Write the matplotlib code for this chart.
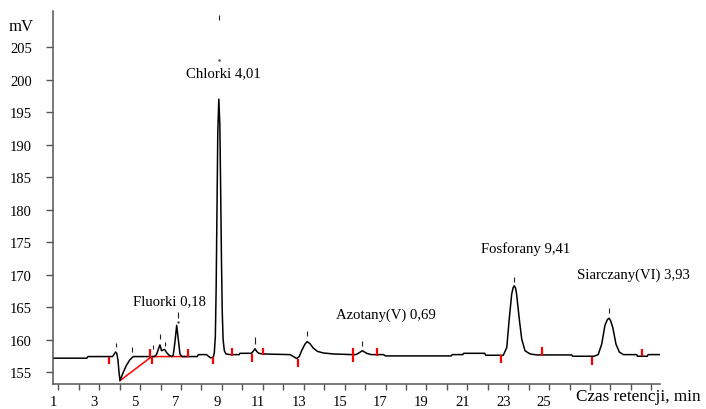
import numpy as np
import matplotlib
matplotlib.use("Agg")
from matplotlib import pyplot as plt
from matplotlib.transforms import ScaledTranslation

# chromatogram trace (time in min, signal in mV)
trace_t = [0.73, 2.40, 2.45, 3.65, 3.72, 3.80, 3.86, 3.92, 3.97, 4.02, 4.08, 4.18, 4.34, 4.50, 4.67,
           5.70, 5.80, 5.88, 5.97, 6.05, 6.12, 6.20, 6.30, 6.42, 6.55, 6.62, 6.70, 6.79, 6.87, 6.95, 7.05,
           7.80, 7.85, 8.25, 8.32, 8.45, 8.58, 8.63, 8.68, 8.72, 8.76, 8.80, 8.85, 8.90, 8.94, 8.98,
           9.02, 9.06, 9.12, 9.20, 9.40, 9.85, 9.88, 10.45, 10.55, 10.62, 10.70, 10.80, 11.00,
           12.33, 12.50, 12.66, 12.78, 12.90, 13.06, 13.17, 13.30, 13.47, 13.67, 13.96, 14.45, 15.35,
           15.55, 15.67, 15.87, 16.08, 16.30, 16.90, 17.00, 20.22, 20.26, 20.78, 20.82, 21.85, 21.90,
           22.76, 22.93, 23.05, 23.17, 23.24, 23.30, 23.36, 23.41, 23.54, 23.66, 23.82, 24.07, 24.40,
           26.10, 26.15, 27.20, 27.40, 27.57, 27.73, 27.85, 27.93, 28.01, 28.11, 28.27, 28.43, 28.63,
           29.28, 29.32, 29.80, 29.84, 30.42]
trace_mv = [157.15, 157.15, 157.4, 157.4, 157.7, 158.1, 157.9, 156.8, 155.0, 153.7, 154.2, 155.0, 156.1, 156.9, 157.4,
            157.4, 157.7, 158.4, 159.2, 158.3, 158.4, 158.5, 158.0, 157.6, 157.4, 157.6, 159.5, 162.2, 160.0, 157.8, 157.4,
            157.4, 157.7, 157.7, 157.5, 157.2, 157.3, 158.0, 160.5, 168.0, 180.0, 192.0, 197.0, 193.0, 183.0, 172.0,
            164.0, 160.0, 158.3, 157.8, 157.7, 157.7, 157.9, 157.9, 158.3, 158.6, 158.2, 157.9, 157.8,
            157.7, 157.4, 157.1, 157.4, 158.3, 159.3, 159.7, 159.4, 158.7, 158.2, 157.95, 157.8, 157.7,
            157.7, 157.9, 158.3, 157.9, 157.7, 157.7, 157.5, 157.5, 157.7, 157.7, 157.9, 157.9, 157.6,
            157.6, 158.8, 163.2, 167.0, 168.0, 168.3, 167.9, 167.0, 163.2, 160.1, 158.3, 157.8, 157.65,
            157.65, 157.45, 157.45, 157.7, 159.3, 162.2, 163.1, 163.3, 162.9, 161.9, 159.3, 158.1, 157.7,
            157.7, 157.45, 157.45, 157.7, 157.7]

# red integration marks (time, lower, upper)
red_t = [3.48, 5.48, 5.57, 7.36, 8.55, 9.51, 10.46, 11.02, 12.72, 15.43, 16.57, 22.63, 24.67, 27.11, 29.53]
red_lo = [156.3, 157.4, 156.3, 157.3, 156.3, 157.5, 156.6, 157.7, 155.8, 156.5, 157.5, 156.4, 157.5, 156.15, 157.45]
red_hi = [157.3, 158.6, 157.4, 158.5, 157.4, 158.7, 157.8, 158.7, 157.1, 158.7, 158.7, 157.65, 158.8, 157.4, 158.6]

# red baseline under the negative dip / fluoride group
base_t = [4.02, 5.57, 7.36]
base_mv = [153.7, 157.4, 157.4]

# small black peak-top marks
mark_t = [3.82, 4.62, 5.65, 5.97, 6.22, 6.84, 8.86, 10.62, 13.17, 15.87, 23.30, 27.93]
mark_lo = [158.8, 158.1, 158.5, 160.1, 159.0, 163.3, 209.2, 159.3, 160.5, 159.1, 168.8, 164.1]
mark_hi = [159.5, 158.8, 159.2, 160.9, 159.7, 164.2, 209.9, 160.4, 161.4, 159.8, 169.6, 164.8]

# peak names
peak_names = ["Chlorki 4,01", "Fluorki 0,18", "Azotany(V) 0,69", "Fosforany 9,41", "Siarczany(VI) 3,93"]
name_t = [9.05, 6.44, 17.02, 23.87, 29.12]
name_mv = [201.0, 166.0, 163.95, 174.1, 170.1]

plt.rcParams['font.family'] = ['Liberation Serif', 'DejaVu Serif']

fig = plt.figure(figsize=(7.06, 4.10), dpi=100)
ax = fig.add_axes([0.0746, 0.0610, 0.8602, 0.9098])

ax.plot(base_t, base_mv, color='red', linewidth=1.1, zorder=1)
ax.plot(trace_t, trace_mv, color='black', linewidth=1.1, zorder=2, solid_joinstyle='round')
ax.vlines(red_t, red_lo, red_hi, color='red', linewidth=1.6, zorder=3)
ax.vlines(mark_t, mark_lo, mark_hi, color='#222222', linewidth=0.8, zorder=3)
# the dotted bits below two of the marks
ax.plot([6.84, 8.86], [162.7, 203.0], linestyle='None', marker='.', markersize=1.5, color='#444444')

for name, t, mv in zip(peak_names, name_t, name_mv):
    ax.text(t, mv, name, ha='center', va='center', fontsize=10.6)

ax.set_xlim(0.726, 30.42)
ax.set_ylim(153.18, 210.57)

ax.set_yticks(np.arange(155, 206, 5))
ax.set_xticks(np.arange(1, 31, 1))
ax.set_xticklabels([str(i) if (i % 2 == 1 and i <= 25) else '' for i in range(1, 31)])

for s in ['top', 'right']:
    ax.spines[s].set_visible(False)
for s in ['left', 'bottom']:
    ax.spines[s].set_color('#555555')
    ax.spines[s].set_linewidth(1.1)

ax.tick_params(axis='y', direction='out', length=5, width=1.0, color='#555555', labelsize=10.5, pad=10)
ax.tick_params(axis='x', direction='out', length=4, width=1.0, color='#555555', labelsize=10.5, pad=4)

# tick labels sit a bit left of their ticks in the original
for lab in ax.get_xticklabels():
    lab.set_transform(lab.get_transform() + ScaledTranslation(-0.05, 0, fig.dpi_scale_trans))

fig.text(21.5 / 706, 1 - 27 / 410, 'mV', ha='center', va='center', fontsize=12)
fig.text(638.5 / 706, 1 - 397 / 410, 'Czas retencji, min', ha='center', va='center', fontsize=12.3)

plt.savefig('out.png', dpi=100)
